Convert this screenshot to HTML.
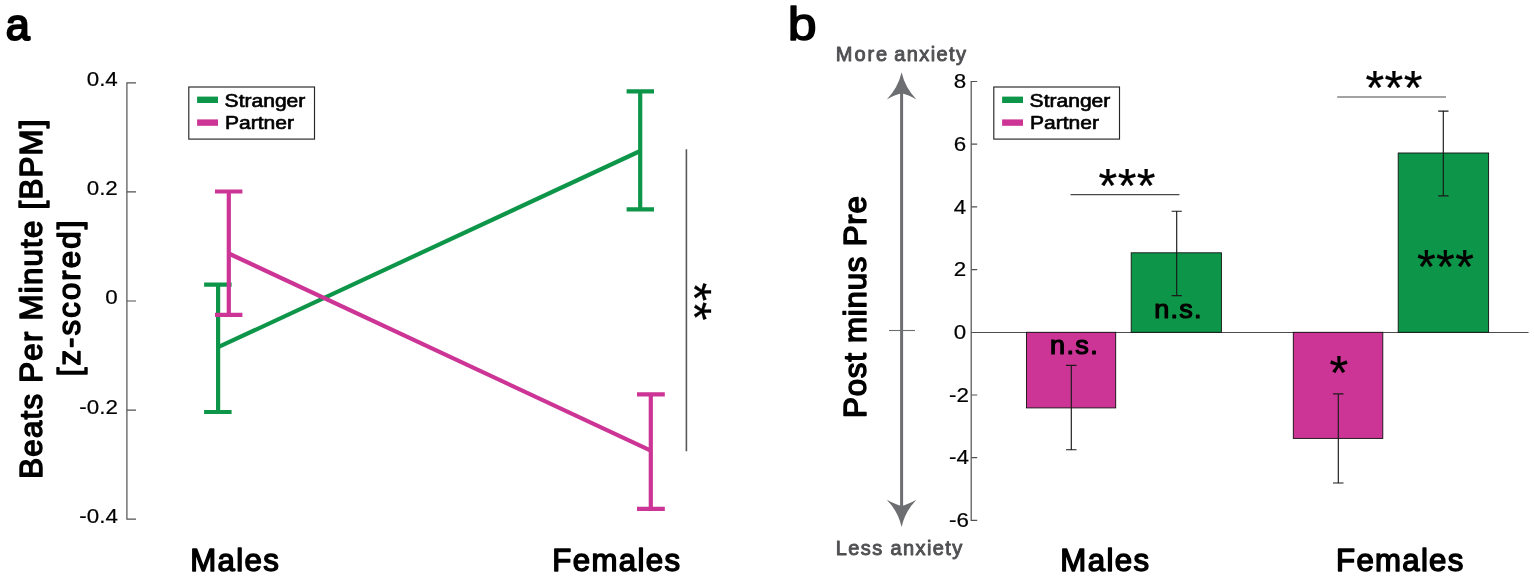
<!DOCTYPE html>
<html><head><meta charset="utf-8"><title>Figure</title>
<style>
html,body{margin:0;padding:0;background:#fff;}
body{width:1534px;height:578px;overflow:hidden;}
svg{display:block;}
text{font-family:"Liberation Sans",Arial,Helvetica,sans-serif;fill:#000;}
.b{font-weight:bold;stroke:#000;stroke-width:0.6;stroke-linejoin:round;}
.fb{stroke:#000;stroke-linejoin:round;stroke-linecap:round;}
.tk{stroke:#000;stroke-width:0.2;}
.ast{font-size:48px;stroke:#000;stroke-width:0.25;stroke-linejoin:round;letter-spacing:0.43px;}
</style></head><body>
<svg width="1534" height="578" viewBox="0 0 1534 578">
<rect width="1534" height="578" fill="#fff"/>
<defs><filter id="soft" x="0" y="0" width="1534" height="578" filterUnits="userSpaceOnUse"><feGaussianBlur stdDeviation="0.35"/></filter></defs>
<g filter="url(#soft)">
<rect width="1534" height="578" fill="#fff"/>

<!-- Panel a -->
<text class="fb" font-size="44" stroke-width="2.1" transform="translate(5.7 39.5) scale(0.98 1)">a</text>
<g stroke="#505153" stroke-width="1.2" fill="none">
<path d="M136 82.8H126.9V519.2H136"/>
<path d="M126.9 191.9H136M126.9 301.0H136M126.9 410.1H136"/>
</g>
<text class="tk" font-size="19.6" text-anchor="end" transform="translate(117.8 86.2) scale(1.14 1)">0.4</text>
<text class="tk" font-size="19.6" text-anchor="end" transform="translate(117.8 195.3) scale(1.14 1)">0.2</text>
<text class="tk" font-size="19.6" text-anchor="end" transform="translate(117.8 304.4) scale(1.14 1)">0</text>
<text class="tk" font-size="19.6" text-anchor="end" transform="translate(117.8 413.5) scale(1.14 1)">-0.2</text>
<text class="tk" font-size="19.6" text-anchor="end" transform="translate(117.8 522.6) scale(1.14 1)">-0.4</text>
<text class="fb" font-size="31.2" stroke-width="1.45" letter-spacing="1.26" transform="translate(41.5 478.75) rotate(-90)">Beats Per Minute [BPM]</text>
<text class="fb" font-size="31.2" stroke-width="1.45" letter-spacing="2.08" transform="translate(80.4 376.3) rotate(-90)">[z-scored]</text>
<rect x="188.8" y="87" width="125.7" height="52.1" fill="#fff" stroke="#262628" stroke-width="1.15"/>
<rect x="197.1" y="96.6" width="20.9" height="6.4" fill="#0f9648"/>
<rect x="197.1" y="119.4" width="20.9" height="6.4" fill="#cc3595"/>
<text class="fb" font-size="17.5" stroke-width="0.62" transform="translate(224.6 106.75) scale(1.203 1)">Stranger</text>
<text class="fb" font-size="17.5" stroke-width="0.62" transform="translate(225.0 128.8) scale(1.203 1)">Partner</text>
<g stroke="#0f9648" stroke-width="4.2" fill="none">
<path d="M218.1 347.2L640.2 151"/>
<path d="M218.1 284.7V412M204.1 284.7H231.6M204.1 412H231.6"/>
<path d="M640.2 91.3V209.3M626.6 91.3H654M626.6 209.3H654"/>
</g>
<g stroke="#cc3595" stroke-width="4.2" fill="none">
<path d="M228.8 253.5L650.8 450.6"/>
<path d="M228.8 191.5V314.8M215 191.5H242.4M215 314.8H242.4"/>
<path d="M650.8 394.3V508.9M637 394.3H664.8M637 508.9H664.8"/>
</g>
<path d="M686.4 149.2V451.3" stroke="#58595b" stroke-width="1.6" fill="none"/>
<text class="ast" transform="translate(677.9 282.6) rotate(90)">**</text>
<text class="fb" font-size="31.2" stroke-width="1.45" letter-spacing="1.37" x="190.15" y="570.9">Males</text>
<text class="fb" font-size="31.2" stroke-width="1.45" letter-spacing="1.35" x="552.35" y="570.9">Females</text>
<!-- Panel b -->
<text class="fb" font-size="46" stroke-width="1.5" transform="translate(787.7 39.5) scale(1.13 1)">b</text>
<text class="fb" font-size="20" stroke-width="0.93" letter-spacing="1.38" x="835.85" y="61.45" style="fill:#505153;stroke:#505153"><tspan letter-spacing="1.9">More</tspan><tspan dx="-1.6"> anxiety</tspan></text>
<text class="fb" font-size="20" stroke-width="0.93" letter-spacing="1.38" x="835.85" y="555.05" style="fill:#505153;stroke:#505153">Less anxiety</text>
<g fill="#6d6e71" stroke="none">
<rect x="900.1" y="90" width="3" height="420"/>
<path d="M901.6 72.3Q898.2 87.6 886.8 99.4Q895 94.8 901.6 93.2Q908.2 94.8 916.4 99.4Q905 87.6 901.6 72.3Z"/>
<path d="M901.6 526.9Q898.2 511.6 886.8 499.8Q895 504.4 901.6 506Q908.2 504.4 916.4 499.8Q905 511.6 901.6 526.9Z"/>
</g>
<path d="M889 330.5H915" stroke="#6d6e71" stroke-width="1.1"/>
<text class="fb" font-size="31.2" stroke-width="1.45" letter-spacing="0.79" transform="translate(865.9 417.95) rotate(-90)">Post minus Pre</text>
<g stroke="#505153" stroke-width="1.2" fill="none">
<path d="M977.2 81.5H971.2V520.4H977.2"/>
<path d="M971.2 144.2H977.2M971.2 206.9H977.2M971.2 269.6H977.2M971.2 395.0H977.2M971.2 457.7H977.2"/>
<path d="M971.2 332.5H1528.5" stroke="#4d4d4f" stroke-width="1"/>
</g>
<text class="tk" font-size="19.6" text-anchor="end" transform="translate(966.2 88.2) scale(1.14 1)">8</text>
<text class="tk" font-size="19.6" text-anchor="end" transform="translate(966.2 150.9) scale(1.14 1)">6</text>
<text class="tk" font-size="19.6" text-anchor="end" transform="translate(966.2 213.6) scale(1.14 1)">4</text>
<text class="tk" font-size="19.6" text-anchor="end" transform="translate(966.2 276.3) scale(1.14 1)">2</text>
<text class="tk" font-size="19.6" text-anchor="end" transform="translate(966.2 339.0) scale(1.14 1)">0</text>
<text class="tk" font-size="19.6" text-anchor="end" transform="translate(968.9 401.7) scale(1.14 1)">-2</text>
<text class="tk" font-size="19.6" text-anchor="end" transform="translate(968.9 464.4) scale(1.14 1)">-4</text>
<text class="tk" font-size="19.6" text-anchor="end" transform="translate(968.9 527.1) scale(1.14 1)">-6</text>
<rect x="993.8" y="87" width="125.7" height="52.1" fill="#fff" stroke="#262628" stroke-width="1.15"/>
<rect x="1002.1" y="96.6" width="20.9" height="6.4" fill="#0f9648"/>
<rect x="1002.1" y="119.4" width="20.9" height="6.4" fill="#cc3595"/>
<text class="fb" font-size="17.5" stroke-width="0.62" transform="translate(1029.6 106.75) scale(1.203 1)">Stranger</text>
<text class="fb" font-size="17.5" stroke-width="0.62" transform="translate(1030.0 128.8) scale(1.203 1)">Partner</text>
<g stroke="#111" stroke-width="0.9">
<rect x="1026.5" y="332.3" width="89.2" height="75.6" fill="#cc3595"/>
<rect x="1131.2" y="252.8" width="90.2" height="79.5" fill="#0f9648"/>
<rect x="1293.3" y="332.3" width="89.5" height="106.1" fill="#cc3595"/>
<rect x="1398.2" y="153" width="90.4" height="179.3" fill="#0f9648"/>
</g>
<g stroke="#1a1a1a" stroke-width="1.15" fill="none">
<path d="M1071.3 365.3V449.7M1066 365.3H1076.5M1066 449.7H1076.5"/>
<path d="M1176.7 211.2V295.6M1171.6 211.2H1181.8M1171.6 295.6H1181.8"/>
<path d="M1338.3 393.9V483M1333 393.9H1343.5M1333 483H1343.5"/>
<path d="M1443.3 111.1V195.8M1438.2 111.1H1448.5M1438.2 195.8H1448.5"/>
</g>
<g stroke="#48494b" stroke-width="1.2" fill="none">
<path d="M1070.5 194.6H1179.4"/>
<path d="M1337.2 97H1446"/>
</g>
<text class="ast" x="1098.6" y="201.6">***</text>
<text class="ast" x="1365.5" y="104">***</text>
<text class="ast" x="1417" y="283.3">***</text>
<text class="ast" x="1329.5" y="388.6">*</text>
<text class="fb" font-size="25.5" stroke-width="1.19" letter-spacing="1.29" transform="translate(1050.05 354.25) scale(1.06 1)">n.s.</text>
<text class="fb" font-size="25.5" stroke-width="1.19" letter-spacing="1.16" transform="translate(1154.35 318.15) scale(1.06 1)">n.s.</text>
<text class="fb" font-size="31.2" stroke-width="1.45" letter-spacing="1.40" x="1060.35" y="570.9">Males</text>
<text class="fb" font-size="31.2" stroke-width="1.45" letter-spacing="1.28" x="1336.05" y="570.9">Females</text>
</g>
</svg>
</body></html>
